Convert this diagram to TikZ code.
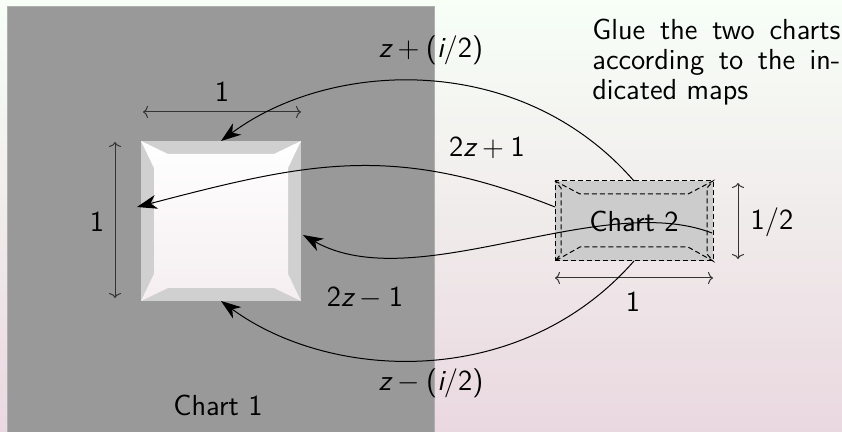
\documentclass[tikz,border=0pt]{standalone}
\usepackage{fontspec}
\usetikzlibrary{arrows.meta,calc}
\definecolor{bgtop}{RGB}{247,255,247}
\definecolor{bgbot}{RGB}{234,216,224}
\definecolor{chartgray}{RGB}{153,153,153}
\definecolor{chartedge}{RGB}{175,175,175}
\definecolor{bevel}{RGB}{208,208,208}
\definecolor{innerbot}{RGB}{245,238,241}
\definecolor{ctwo}{RGB}{204,204,204}
\definecolor{dimline}{RGB}{51,51,51}
\begin{document}
\begin{tikzpicture}[x=0.5pt,y=-0.5pt,
  lbl/.style={font=\sffamily\fontsize{14.5}{15}\selectfont, inner sep=0pt},
  dimarrow/.style={draw=dimline, line width=0.5pt, {To[length=2.5pt,width=6pt]}-{To[length=2.5pt,width=6pt]}},
  mapping/.style={draw=black, line width=0.5pt, -{Stealth[length=10pt,width=7pt,inset=3pt]}},
  dashline/.style={draw=black, line width=0.5pt, dash pattern=on 2.5pt off 1.5pt},
]
\useasboundingbox (0,0) rectangle (842,432);
\shade[top color=bgtop, bottom color=bgbot] (0,0) rectangle (842,432);
\fill[chartgray, draw=chartedge, line width=0.5pt] (7,7) rectangle (434,434);

% Chart 1 square
\node[fill=bevel, minimum width=80pt, minimum height=80pt, inner sep=0pt, outer sep=0pt] (sq) at (221,221) {};
\shade[top color=white, bottom color=innerbot]
  (141,141) -- (168,154) -- (274,154) -- (301,141) -- (288,168) -- (288,274) -- (301,301)
  -- (274,288) -- (168,288) -- (141,301) -- (154,274) -- (154,168) -- cycle;

% Chart 2
\node[fill=ctwo, dashline, minimum width=79pt, minimum height=40pt, inner sep=0pt, outer sep=0pt, lbl] (c2) at (634,221) {Chart 2};
\draw[dashline]
  (555,181) -- (580,194) -- (688,194) -- (713,181) -- (707,188) -- (707,254) -- (713,261)
  -- (688,247) -- (580,247) -- (555,261) -- (561,254) -- (561,188) -- cycle;

% dimension lines
\coordinate (dt1) at ($(sq.north west)+(2,-29)$);
\coordinate (dt2) at ($(sq.north east)+(0,-29)$);
\coordinate (dl1) at ($(sq.north west)+(-26,1)$);
\coordinate (dl2) at ($(sq.south west)+(-26,-3)$);
\coordinate (dr1) at ($(c2.north east)+(25,2)$);
\coordinate (dr2) at ($(c2.south east)+(25,-2)$);
\coordinate (db1) at ($(c2.south west)+(0,17)$);
\coordinate (db2) at ($(c2.south east)+(0,17)$);
\draw[dimarrow] (dt1) -- (dt2);
\draw[dimarrow] (dl1) -- (dl2);
\draw[dimarrow] (dr1) -- (dr2);
\draw[dimarrow] (db1) -- (db2);
\node[lbl] (ltop) at (222,92) {1};
\node[lbl] (lleft) at (97,222) {1};
\node[lbl] (lright) at (772,222) {1/2};
\node[lbl] (lbot) at (633,302) {1};

% gluing maps
\coordinate (s2) at ($(c2.west)+(0,-14)$);
\coordinate (e2) at ($(sq.west)+(-4,-14)$);
\coordinate (s3) at ($(c2.east)+(-1,12)$);
\coordinate (e3) at ($(sq.east)+(2,14)$);
\draw[mapping] (c2.north) .. controls (520,50) and (330,60) .. (sq.north);
\draw[mapping] (s2) .. controls (394,143) and (309,162) .. (e2);
\draw[mapping] (s3) .. controls (600,190) and (415,298) .. (e3);
\draw[mapping] (c2.south) .. controls (520,391) and (330,381) .. (sq.south);

\node[lbl, anchor=base] (m1) at (431,58) {{\itshape z}\:$+$\:({\itshape i}/2)};
\node[lbl] (m2) at (487,148) {2{\itshape z}\:$+$\:1};
\node[lbl] (m3) at (365,298) {2{\itshape z}\:$-$\:1};
\node[lbl, anchor=base] (m4) at (431,391) {{\itshape z}\:$-$\:({\itshape i}/2)};
\node[lbl] (ch1) at (218,405) {Chart 1};
\node[lbl, anchor=base west] (note1) at (592,40) {\makebox[124pt][s]{Glue the two charts}};
\node[lbl, anchor=base west] (note2) at (592,70) {\makebox[124pt][s]{according to the in-}};
\node[lbl, anchor=base west] (note3) at (592,100) {dicated maps};
\end{tikzpicture}
\end{document}
